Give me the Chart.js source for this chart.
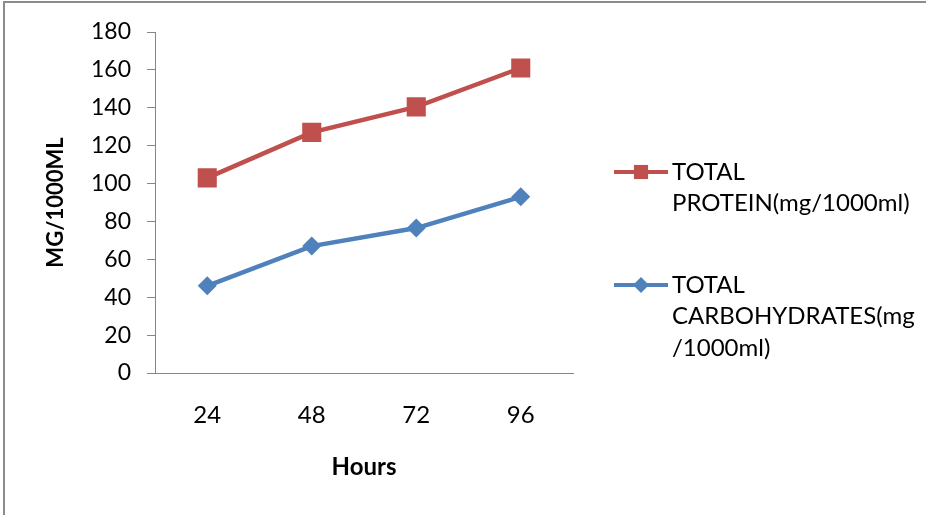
<!DOCTYPE html>
<html>
<head>
<meta charset="utf-8">
<script src="https://cdn.jsdelivr.net/npm/chart.js@4"></script>
<style>
  html, body { margin: 0; padding: 0; background: #fff; overflow: hidden; }
  #wrap { position: relative; width: 926px; height: 515px; overflow: hidden; }
  #frame { position: absolute; left: 3px; top: 1px; right: 0; bottom: 0; border-left: 2px solid #8c8c8c; border-top: 2px solid #8c8c8c; }
  canvas { position: absolute; left: 0; top: 0; }
</style>
</head>
<body>
<div id="wrap">
  <div id="frame"></div>
  <canvas id="c" width="926" height="515"></canvas>
</div>
<script>
// categories and values
const hours = ["24", "48", "72", "96"];
const protein = [103, 127, 140.5, 161];
const carbs = [46, 67, 76.5, 93];
const yTicks = [0, 20, 40, 60, 80, 100, 120, 140, 160, 180];

const RED = "#c0504d";
const BLUE = "#4f81bd";
const FONT = "Lato, 'Open Sans', sans-serif";

// legend drawn on the right, with wrapped text like the original
const sideLegend = {
  id: "sideLegend",
  afterDraw(chart) {
    const ctx = chart.ctx;
    const items = [
      { color: RED, style: "rect", r: 10, y: 172, lines: ["TOTAL", "PROTEIN(mg/1000ml)"] },
      { color: BLUE, style: "rectRot", r: 8, y: 285, lines: ["TOTAL", "CARBOHYDRATES(mg", "/1000ml)"] }
    ];
    ctx.save();
    items.forEach(it => {
      ctx.strokeStyle = it.color;
      ctx.lineWidth = 4;
      ctx.beginPath();
      ctx.moveTo(614, it.y);
      ctx.lineTo(668, it.y);
      ctx.stroke();
      ctx.fillStyle = it.color;
      Chart.helpers.drawPoint(ctx, { pointStyle: it.style, radius: it.r, borderWidth: 0 }, 641, it.y);
      ctx.fillStyle = "#000";
      ctx.font = "24px " + FONT;
      ctx.textBaseline = "middle";
      ctx.textAlign = "left";
      it.lines.forEach((t, i) => ctx.fillText(t, 672, it.y + i * 31.5));
    });
    ctx.restore();
  }
};

new Chart(document.getElementById("c"), {
  type: "line",
  data: {
    labels: hours,
    datasets: [
      {
        label: "TOTAL PROTEIN(mg/1000ml)",
        data: protein,
        borderColor: RED,
        backgroundColor: RED,
        borderWidth: 4.5,
        pointStyle: "rect",
        pointRadius: 13.5,
        pointBorderWidth: 0,
        tension: 0
      },
      {
        label: "TOTAL CARBOHYDRATES(mg/1000ml)",
        data: carbs,
        borderColor: BLUE,
        backgroundColor: BLUE,
        borderWidth: 4.5,
        pointStyle: "rectRot",
        pointRadius: 9.5,
        pointBorderWidth: 0,
        tension: 0
      }
    ]
  },
  options: {
    responsive: false,
    animation: false,
    layout: { padding: { left: 0, top: 32, right: 353, bottom: 0 } },
    plugins: {
      legend: { display: false },
      tooltip: { enabled: false }
    },
    scales: {
      x: {
        offset: true,
        grid: { display: false },
        border: { display: true, color: "#868686", width: 1 },
        ticks: { color: "#000", font: { family: FONT, size: 24 }, padding: 20 },
        title: { display: true, text: "Hours", color: "#000", font: { family: FONT, size: 24, weight: "bold" }, padding: 33 },
        afterFit: s => { s.height = 142; }
      },
      y: {
        min: 0,
        max: 180,
        afterBuildTicks: s => { s.ticks = yTicks.map(v => ({ value: v })); },
        grid: { drawOnChartArea: false, drawTicks: true, tickLength: 8, color: "#868686" },
        border: { display: true, color: "#868686", width: 1 },
        ticks: { color: "#000", font: { family: FONT, size: 23 }, padding: 16 },
        title: { display: true, text: "MG/1000ML", color: "#000", font: { family: FONT, size: 22, weight: "bold" }, padding: 43 },
        afterFit: s => { s.width = 155; }
      }
    }
  },
  plugins: [sideLegend]
});
</script>
</body>
</html>
